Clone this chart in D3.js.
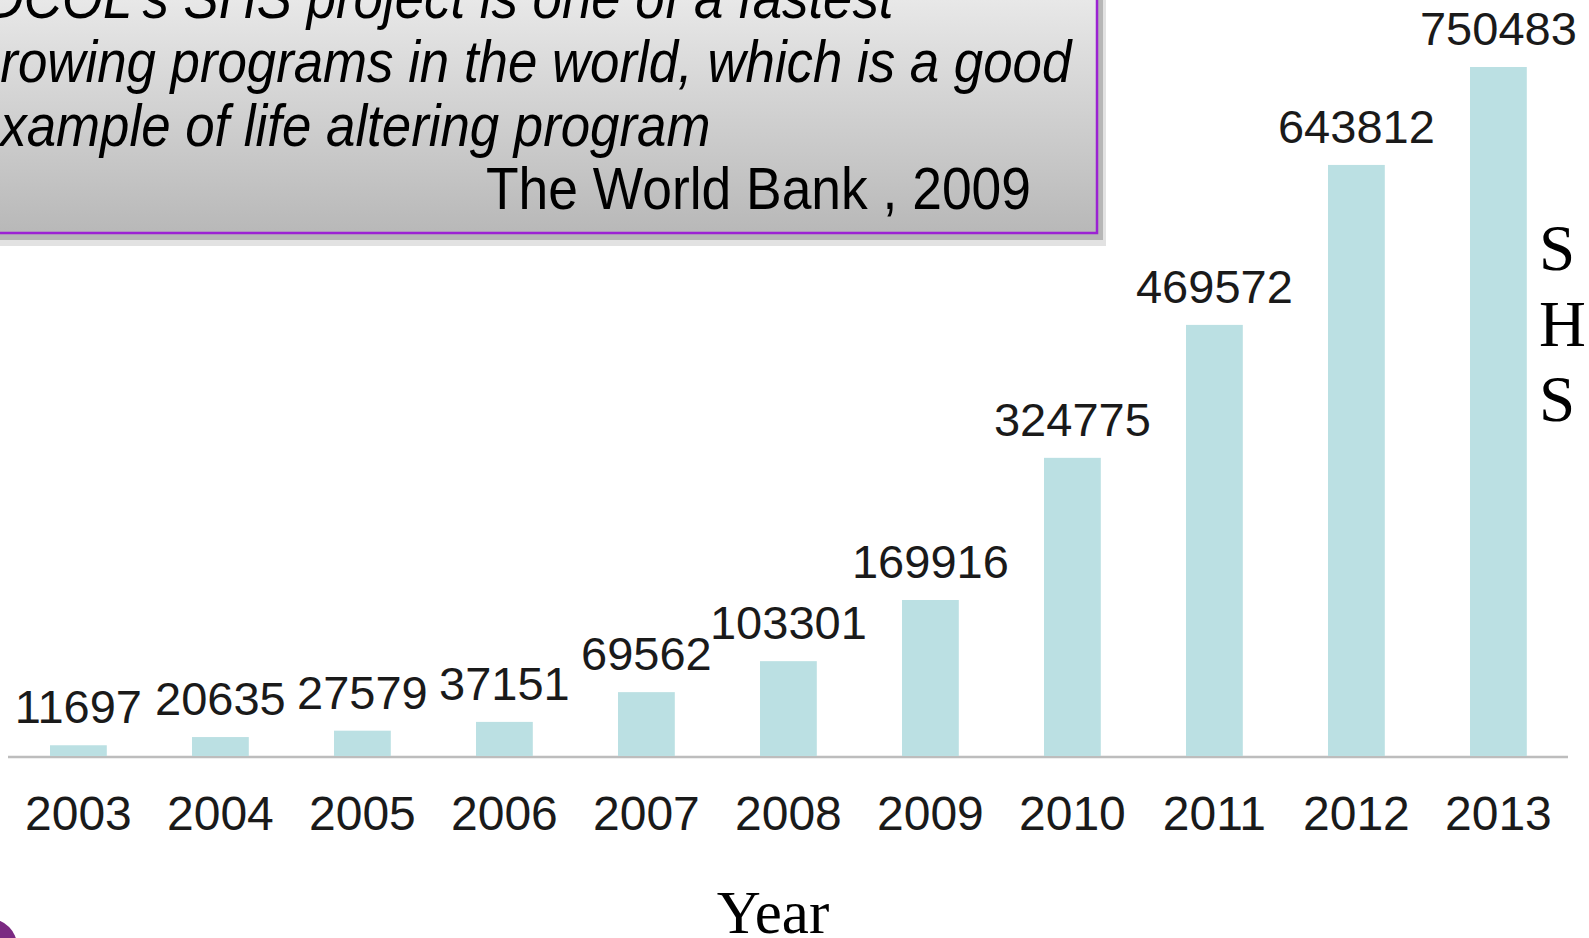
<!DOCTYPE html>
<html>
<head>
<meta charset="utf-8">
<script src="https://cdn.jsdelivr.net/npm/d3@7"></script>
<style>
  html, body { margin: 0; padding: 0; background: #fff; overflow: hidden; }
  svg { display: block; }
</style>
</head>
<body>
<svg id="chart" width="1589" height="938"></svg>
<script>
const WIDTH = 1589;
const HEIGHT = 938;

// data
const years = ["2003", "2004", "2005", "2006", "2007", "2008", "2009", "2010", "2011", "2012", "2013"];
const installs = [11697, 20635, 27579, 37151, 69562, 103301, 169916, 324775, 469572, 643812, 750483];
const quoteLines = [
  "IDCOL's SHS project is one of a fastest",
  "growing programs in the world, which is a good",
  "example of life altering program"
];
const quoteSource = "The World Bank , 2009";
const xTitle = "Year";
const yTitle = ["S", "H", "S"];

const svg = d3.select("#chart");
const sans = "'Liberation Sans', Arial, sans-serif";
const serif = "'Liberation Serif', 'Times New Roman', serif";

// scales
const x = d3.scaleBand().domain(years).range([7.4, 1569.4]).paddingInner(0.6).paddingOuter(0.3);
const y = d3.scaleLinear().domain([0, 750483]).range([756, 67]);

// baseline
svg.append("line")
  .attr("x1", 8).attr("x2", 1568)
  .attr("y1", y(0) + 1).attr("y2", y(0) + 1)
  .attr("stroke", "#bdbdbd")
  .attr("stroke-width", 2.5);

// bars
svg.selectAll(".bar")
  .data(installs)
  .enter()
  .append("rect")
  .attr("class", "bar")
  .attr("x", (_, i) => x(years[i]))
  .attr("y", d => y(d))
  .attr("width", x.bandwidth())
  .attr("height", d => y(0) - y(d))
  .attr("fill", "#bbe0e3");

// value labels
svg.selectAll(".val")
  .data(installs)
  .enter()
  .append("text")
  .attr("class", "val")
  .attr("x", (_, i) => x(years[i]) + x.bandwidth() / 2)
  .attr("y", d => y(d) - 22)
  .attr("text-anchor", "middle")
  .attr("font-family", sans)
  .attr("font-size", 47)
  .attr("fill", "#1a1a1a")
  .text(d => d);

// year labels
svg.selectAll(".yr")
  .data(years)
  .enter()
  .append("text")
  .attr("class", "yr")
  .attr("x", d => x(d) + x.bandwidth() / 2)
  .attr("y", 830)
  .attr("text-anchor", "middle")
  .attr("font-family", sans)
  .attr("font-size", 48)
  .attr("fill", "#1a1a1a")
  .text(d => d);

// axis titles
svg.append("text")
  .attr("x", 773).attr("y", 933)
  .attr("text-anchor", "middle")
  .attr("font-family", serif)
  .attr("font-size", 61)
  .attr("fill", "#000")
  .text(xTitle);

svg.selectAll(".ytitle")
  .data(yTitle)
  .enter()
  .append("text")
  .attr("class", "ytitle")
  .attr("x", 1539)
  .attr("y", (_, i) => 270 + i * 75.5)
  .attr("font-family", serif)
  .attr("font-size", 65)
  .attr("fill", "#000")
  .text(d => d);

// quote box
const defs = svg.append("defs");
const grad = defs.append("linearGradient")
  .attr("id", "boxGrad")
  .attr("x1", 0).attr("y1", 0).attr("x2", 0).attr("y2", 1);
grad.append("stop").attr("offset", "0%").attr("stop-color", "#ececec");
grad.append("stop").attr("offset", "100%").attr("stop-color", "#b8b8b8");

const box = svg.append("g");
box.append("rect")
  .attr("x", -20).attr("y", -20)
  .attr("width", 1126).attr("height", 266)
  .attr("fill", "#e2e2e2");
box.append("rect")
  .attr("x", -20).attr("y", -20)
  .attr("width", 1123).attr("height", 260)
  .attr("fill", "#b6b6b6");
box.append("rect")
  .attr("x", -20).attr("y", -20)
  .attr("width", 1117).attr("height", 253)
  .attr("fill", "url(#boxGrad)")
  .attr("stroke", "#9b22d3")
  .attr("stroke-width", 2.5);

const quote = box.append("g")
  .attr("font-family", sans)
  .attr("font-size", 60)
  .attr("fill", "#000");

quote.selectAll(".q")
  .data(quoteLines)
  .enter()
  .append("text")
  .attr("class", "q")
  .attr("transform", (_, i) => `translate(-29,${18 + i * 64}) scale(0.88,1)`)
  .attr("font-style", "italic")
  .text(d => d);

quote.append("text")
  .attr("transform", "translate(1031,209) scale(0.89,1)")
  .attr("text-anchor", "end")
  .text(quoteSource);

// purple corner decoration
svg.append("circle")
  .attr("cx", -10).attr("cy", 946)
  .attr("r", 27)
  .attr("fill", "#7b2a82");
</script>
</body>
</html>
